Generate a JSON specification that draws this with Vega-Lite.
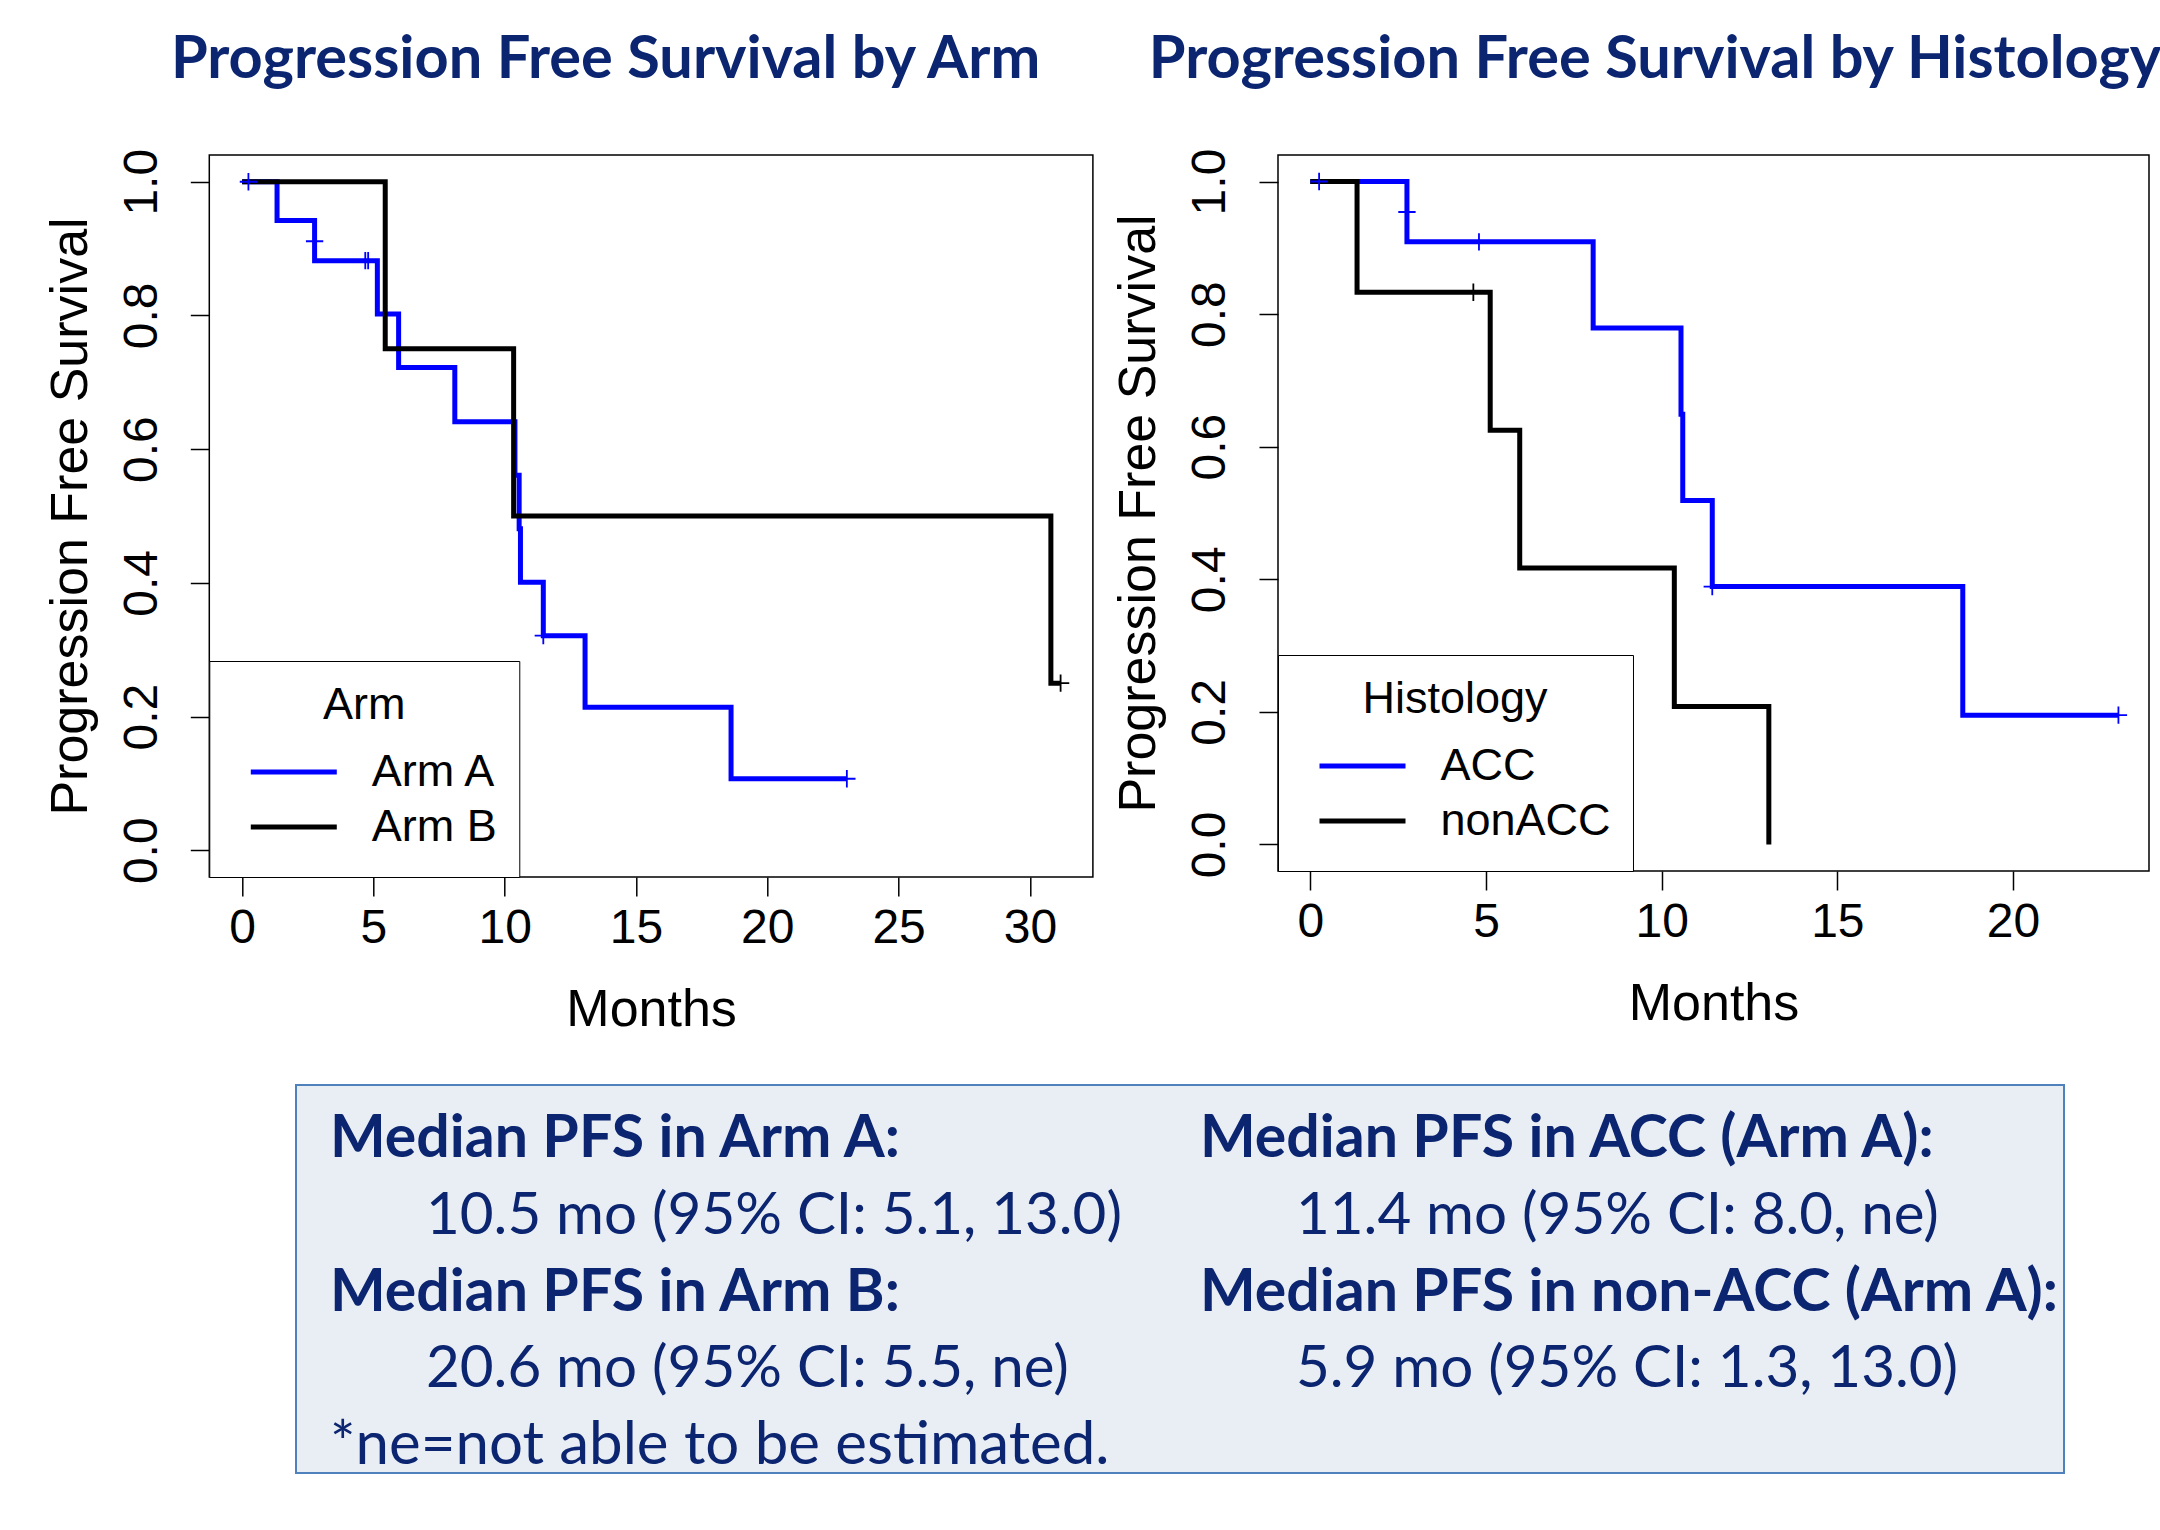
{
  "$schema": "https://vega.github.io/schema/vega-lite/v6.json",
  "background": "white",
  "autosize": {"type": "pad"},
  "padding": {"left": 43, "top": 28, "right": 0, "bottom": 0},
  "spacing": 48,
  "center": true,
  "config": {
    "font": "Liberation Sans",
    "view": {"stroke": "black", "strokeWidth": 1.5},
    "axis": {"domain": false, "grid": false, "ticks": true, "tickColor": "black", "tickWidth": 1.5, "tickSize": 19, "labelFont": "Liberation Sans", "labelFontSize": 48, "labelColor": "black", "labelFlush": false, "labelOverlap": false, "labelBound": false, "titleFont": "Liberation Sans", "titleFontSize": 52, "titleFontWeight": "normal", "titleColor": "black"},
    "axisX": {"labelPadding": 46, "labelBaseline": "alphabetic", "titleY": 148, "titleBaseline": "alphabetic"},
    "axisY": {"labelAngle": 270, "labelAlign": "center", "labelBaseline": "alphabetic", "labelPadding": 34, "titleX": -123, "titleBaseline": "alphabetic", "titleAngle": 270},
    "legend": {"orient": "bottom-left", "offset": 0, "strokeColor": "black", "fillColor": "white", "padding": 22, "symbolType": "stroke", "symbolSize": 7396, "symbolStrokeWidth": 5, "symbolOffset": 17, "labelOffset": 32.5, "labelFont": "Liberation Sans", "labelFontSize": 45, "labelColor": "black", "labelLimit": 1000, "titleFont": "Liberation Sans", "titleFontSize": 45, "titleFontWeight": "normal", "titleColor": "black", "titleAnchor": "middle", "titleAlign": "center", "titleLimit": 1000, "titlePadding": 16.5, "clipHeight": 55, "rowPadding": 0},
    "title": {"anchor": "middle", "frame": "group", "baseline": "alphabetic", "offset": 58, "font": "Lato", "fontSize": 59.5, "fontWeight": "bold", "color": "#0B2570"}
  },
  "datasets": {
    "armSteps": [
      {"months": 0, "pfs": 1, "arm": "Arm A"},
      {"months": 1.33, "pfs": 0.942, "arm": "Arm A"},
      {"months": 2.76, "pfs": 0.882, "arm": "Arm A"},
      {"months": 5.15, "pfs": 0.802, "arm": "Arm A"},
      {"months": 5.96, "pfs": 0.722, "arm": "Arm A"},
      {"months": 8.1, "pfs": 0.641, "arm": "Arm A"},
      {"months": 10.39, "pfs": 0.561, "arm": "Arm A"},
      {"months": 10.55, "pfs": 0.481, "arm": "Arm A"},
      {"months": 10.6, "pfs": 0.401, "arm": "Arm A"},
      {"months": 11.47, "pfs": 0.321, "arm": "Arm A"},
      {"months": 13.06, "pfs": 0.214, "arm": "Arm A"},
      {"months": 18.62, "pfs": 0.107, "arm": "Arm A"},
      {"months": 23.03, "pfs": 0.107, "arm": "Arm A"},
      {"months": 0, "pfs": 1, "arm": "Arm B"},
      {"months": 5.45, "pfs": 0.75, "arm": "Arm B"},
      {"months": 10.34, "pfs": 0.5, "arm": "Arm B"},
      {"months": 30.8, "pfs": 0.25, "arm": "Arm B"},
      {"months": 31.17, "pfs": 0.25, "arm": "Arm B"}
    ],
    "armCensor": [
      {"months": 0.24, "pfs": 1, "arm": "Arm A"},
      {"months": 2.76, "pfs": 0.911, "arm": "Arm A"},
      {"months": 4.69, "pfs": 0.882, "arm": "Arm A"},
      {"months": 4.8, "pfs": 0.882, "arm": "Arm A"},
      {"months": 11.47, "pfs": 0.321, "arm": "Arm A"},
      {"months": 23.03, "pfs": 0.107, "arm": "Arm A"},
      {"months": 31.17, "pfs": 0.25, "arm": "Arm B"}
    ],
    "histSteps": [
      {"months": 0, "pfs": 1, "histology": "ACC"},
      {"months": 2.75, "pfs": 0.909, "histology": "ACC"},
      {"months": 8.05, "pfs": 0.779, "histology": "ACC"},
      {"months": 10.55, "pfs": 0.649, "histology": "ACC"},
      {"months": 10.6, "pfs": 0.519, "histology": "ACC"},
      {"months": 11.44, "pfs": 0.389, "histology": "ACC"},
      {"months": 18.57, "pfs": 0.195, "histology": "ACC"},
      {"months": 23.0, "pfs": 0.195, "histology": "ACC"},
      {"months": 0, "pfs": 1, "histology": "nonACC"},
      {"months": 1.33, "pfs": 0.833, "histology": "nonACC"},
      {"months": 5.12, "pfs": 0.625, "histology": "nonACC"},
      {"months": 5.96, "pfs": 0.417, "histology": "nonACC"},
      {"months": 10.36, "pfs": 0.208, "histology": "nonACC"},
      {"months": 13.05, "pfs": 0, "histology": "nonACC"}
    ],
    "histCensor": [
      {"months": 0.25, "pfs": 1, "histology": "ACC"},
      {"months": 2.75, "pfs": 0.954, "histology": "ACC"},
      {"months": 4.8, "pfs": 0.909, "histology": "ACC"},
      {"months": 11.44, "pfs": 0.389, "histology": "ACC"},
      {"months": 23.0, "pfs": 0.195, "histology": "ACC"},
      {"months": 4.64, "pfs": 0.833, "histology": "nonACC"}
    ],
    "summary": [
      {"column": "Arm", "line": 1, "kind": "heading", "label": "Median PFS in Arm A:"},
      {"column": "Arm", "line": 2, "kind": "value", "label": "10.5 mo (95% CI: 5.1, 13.0)"},
      {"column": "Arm", "line": 3, "kind": "heading", "label": "Median PFS in Arm B:"},
      {"column": "Arm", "line": 4, "kind": "value", "label": "20.6 mo (95% CI: 5.5, ne)"},
      {"column": "Arm", "line": 5, "kind": "note", "label": "*ne=not able to be estimated."},
      {"column": "Histology", "line": 1, "kind": "heading", "label": "Median PFS in ACC (Arm A):"},
      {"column": "Histology", "line": 2, "kind": "value", "label": "11.4 mo (95% CI: 8.0, ne)"},
      {"column": "Histology", "line": 3, "kind": "heading", "label": "Median PFS in non-ACC (Arm A):"},
      {"column": "Histology", "line": 4, "kind": "value", "label": "5.9 mo (95% CI: 1.3, 13.0)"}
    ]
  },
  "vconcat": [
    {
      "hconcat": [
        {
          "width": 883.6,
          "height": 722,
          "title": {"text": "Progression Free Survival by Arm", "dx": -45.5},
          "layer": [
            {
              "data": {"name": "armSteps"},
              "mark": {"type": "line", "interpolate": "step-after", "strokeWidth": 5, "strokeCap": "butt"},
              "encoding": {
                "x": {"field": "months", "type": "quantitative", "scale": {"domain": [-1.25, 32.4], "nice": false, "zero": false}, "axis": {"values": [0, 5, 10, 15, 20, 25, 30], "title": "Months"}},
                "y": {"field": "pfs", "type": "quantitative", "scale": {"domain": [-0.04, 1.04], "nice": false, "zero": false}, "axis": {"values": [0, 0.2, 0.4, 0.6, 0.8, 1], "format": ".1f", "title": "Progression Free Survival"}},
                "color": {"field": "arm", "type": "nominal", "scale": {"domain": ["Arm A", "Arm B"], "range": ["#0000ff", "#000000"]}, "legend": {"title": "Arm"}}
              }
            },
            {
              "data": {"name": "armCensor"},
              "mark": {"type": "point", "shape": "M-1,0H1M0,-1V1", "filled": false, "size": 300, "strokeWidth": 1.8, "opacity": 1},
              "encoding": {
                "x": {"field": "months", "type": "quantitative"},
                "y": {"field": "pfs", "type": "quantitative"},
                "stroke": {"field": "arm", "type": "nominal", "scale": {"domain": ["Arm A", "Arm B"], "range": ["#0000ff", "#000000"]}, "legend": null}
              }
            }
          ]
        },
        {
          "width": 871,
          "height": 716,
          "title": {"text": "Progression Free Survival by Histology", "dx": -58.5},
          "layer": [
            {
              "data": {"name": "histSteps"},
              "mark": {"type": "line", "interpolate": "step-after", "strokeWidth": 5, "strokeCap": "butt"},
              "encoding": {
                "x": {"field": "months", "type": "quantitative", "scale": {"domain": [-0.92, 23.87], "nice": false, "zero": false}, "axis": {"values": [0, 5, 10, 15, 20], "title": "Months"}},
                "y": {"field": "pfs", "type": "quantitative", "scale": {"domain": [-0.04, 1.04], "nice": false, "zero": false}, "axis": {"values": [0, 0.2, 0.4, 0.6, 0.8, 1], "format": ".1f", "title": "Progression Free Survival"}},
                "color": {"field": "histology", "type": "nominal", "scale": {"domain": ["ACC", "nonACC"], "range": ["#0000ff", "#000000"]}, "legend": {"title": "Histology"}}
              }
            },
            {
              "data": {"name": "histCensor"},
              "mark": {"type": "point", "shape": "M-1,0H1M0,-1V1", "filled": false, "size": 300, "strokeWidth": 1.8, "opacity": 1},
              "encoding": {
                "x": {"field": "months", "type": "quantitative"},
                "y": {"field": "pfs", "type": "quantitative"},
                "stroke": {"field": "histology", "type": "nominal", "scale": {"domain": ["ACC", "nonACC"], "range": ["#0000ff", "#000000"]}, "legend": null}
              }
            }
          ]
        }
      ],
      "spacing": 184.7,
      "bounds": "flush",
      "resolve": {"scale": {"x": "independent", "y": "independent", "color": "independent", "stroke": "independent"}, "legend": {"color": "independent"}}
    },
    {
      "width": 1768,
      "height": 388,
      "view": {"fill": "#E9EDF4", "stroke": "#4F81BD", "strokeWidth": 2},
      "data": {"name": "summary"},
      "encoding": {
        "x": {"field": "column", "type": "nominal", "scale": {"type": "point", "domain": ["Arm", "Histology"], "range": [34, 904], "padding": 0}, "axis": null},
        "y": {"field": "line", "type": "quantitative", "scale": {"domain": [0.062, 5.117], "reverse": true, "nice": false, "zero": false}, "axis": {"orient": "right", "values": [3], "labels": false, "domain": false, "grid": false, "ticks": true, "tickSize": 11, "tickOpacity": 0, "title": null}},
        "text": {"field": "label"}
      },
      "layer": [
        {"transform": [{"filter": "datum.kind === 'heading'"}], "mark": {"type": "text", "align": "left", "baseline": "alphabetic", "font": "Lato", "fontSize": 59, "fontWeight": "bold", "color": "#0B2570"}},
        {"transform": [{"filter": "datum.kind === 'value'"}], "mark": {"type": "text", "align": "left", "baseline": "alphabetic", "dx": 96, "font": "Lato", "fontSize": 58.3, "fontWeight": "normal", "color": "#0B2570"}},
        {"transform": [{"filter": "datum.kind === 'note'"}], "mark": {"type": "text", "align": "left", "baseline": "alphabetic", "font": "Lato", "fontSize": 60, "fontWeight": "normal", "color": "#0B2570"}}
      ]
    }
  ]
}
